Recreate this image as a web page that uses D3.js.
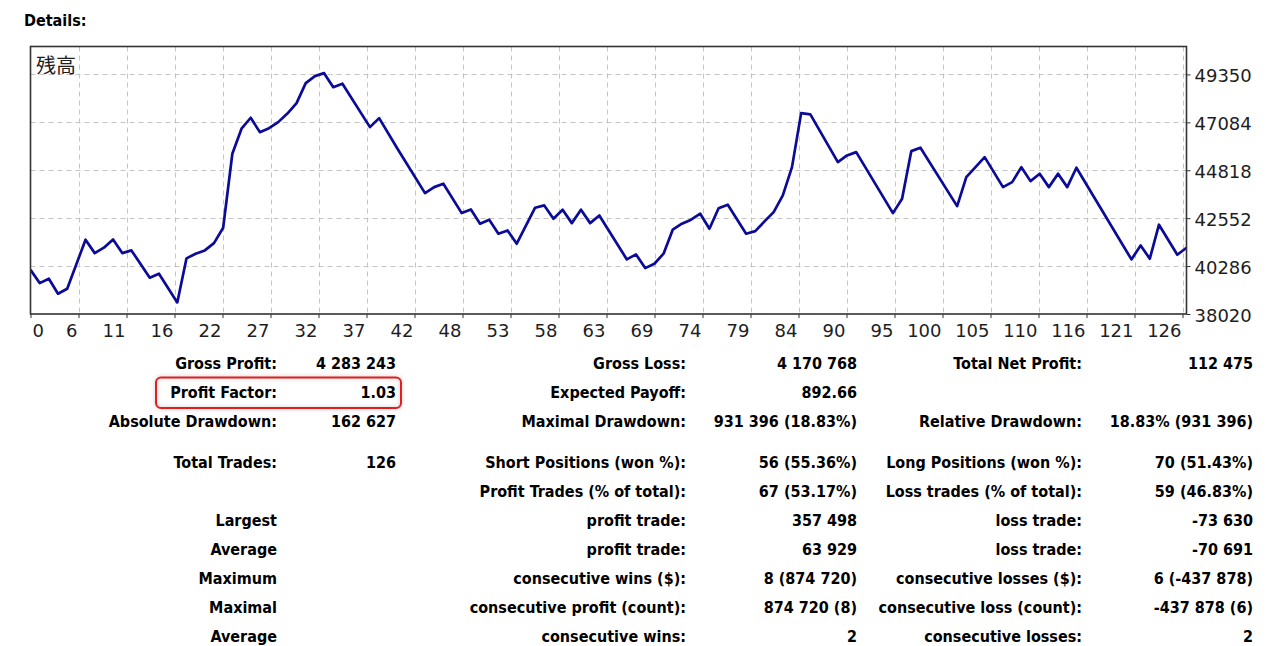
<!DOCTYPE html>
<html>
<head>
<meta charset="utf-8">
<script src="https://cdn.jsdelivr.net/npm/d3@7/dist/d3.min.js"></script>
<style>
body { margin: 0; background: #fff; }
.bold { font-family: "DejaVu Sans Condensed", "DejaVu Sans", sans-serif; font-stretch: condensed; font-weight: bold; font-size: 16px; fill: #000; }
.axis text { font-family: "DejaVu Sans", sans-serif; font-size: 18px; fill: #1e1e1e; }
.axis line { stroke: #333; }
</style>
</head>
<body>
<svg id="chart" width="1285" height="646"></svg>
<script>
// balance curve vertices (trade number, balance)
var tradeIndex = [0, 1, 2, 3, 4, 6, 7, 8, 9, 10, 11, 13, 14, 16, 17, 18, 19, 20, 21, 22,
    23, 24, 25, 26, 27, 28, 29, 30, 31, 32, 33, 34, 37, 38, 40, 43, 44, 45, 47, 48,
    49, 50, 51, 52, 53, 55, 56, 57, 58, 59, 60, 61, 62, 65, 66, 67, 68, 69, 70, 71,
    72, 73, 74, 75, 76, 78, 79, 80, 81, 82, 83, 84, 85, 88, 89, 90, 94, 95, 96, 97,
    101, 102, 103, 104, 106, 107, 108, 109, 110, 111, 112, 113, 114, 120, 121, 122, 123, 125, 126];
var balance = [40114, 39481, 39689, 38980, 39216, 41533, 40899, 41155, 41547, 40899, 41027, 39736, 39925, 38568, 40649, 40871, 41027, 41372, 42100, 45599,
    46781, 47301, 46620, 46809, 47093, 47500, 47991, 48937, 49268, 49410, 48748, 48909, 46857, 47282, 45835, 43736, 44020, 44181, 42791, 42966,
    42289, 42479, 41817, 41973, 41344, 43046, 43155, 42526, 42951, 42318, 42951, 42318, 42682, 40601, 40838, 40190, 40398, 40871, 42006, 42289,
    42479, 42762, 42053, 43020, 43188, 41817, 41940, 42398, 42838, 43627, 44965, 47519, 47457, 45202, 45519, 45675, 42791, 43471, 45722, 45883,
    43121, 44493, 44965, 45438, 44020, 44256, 44965, 44304, 44653, 44020, 44653, 44020, 44937, 40601, 41263, 40635, 42242, 40824, 41155];

var xTickLabels = ["0", "6", "11", "16", "22", "27", "32", "37", "42", "48", "53", "58", "63",
    "69", "74", "79", "84", "90", "95", "100", "105", "110", "116", "121", "126"];
var yTickValues = [38020, 40286, 42552, 44818, 47084, 49350];
var chartTitle = "残高";

var tableRows = [
    ["Gross Profit:", "4 283 243", "Gross Loss:", "4 170 768", "Total Net Profit:", "112 475"],
    ["Profit Factor:", "1.03", "Expected Payoff:", "892.66", "", ""],
    ["Absolute Drawdown:", "162 627", "Maximal Drawdown:", "931 396 (18.83%)", "Relative Drawdown:", "18.83% (931 396)"],
    ["Total Trades:", "126", "Short Positions (won %):", "56 (55.36%)", "Long Positions (won %):", "70 (51.43%)"],
    ["", "", "Profit Trades (% of total):", "67 (53.17%)", "Loss trades (% of total):", "59 (46.83%)"],
    ["Largest", "", "profit trade:", "357 498", "loss trade:", "-73 630"],
    ["Average", "", "profit trade:", "63 929", "loss trade:", "-70 691"],
    ["Maximum", "", "consecutive wins ($):", "8 (874 720)", "consecutive losses ($):", "6 (-437 878)"],
    ["Maximal", "", "consecutive profit (count):", "874 720 (8)", "consecutive loss (count):", "-437 878 (6)"],
    ["Average", "", "consecutive wins:", "2", "consecutive losses:", "2"]
];

function draw() {
    var svg = d3.select("#chart");
    var plot = {left: 30.5, right: 1186.5, top: 46.5, bottom: 314};
    var gridStep = 48;

    svg.append("text")
        .attr("class", "bold")
        .attr("x", 24)
        .attr("y", 26)
        .text("Details:");

    var xScale = d3.scaleLinear()
        .domain([0, 126])
        .range([plot.left, plot.right]);

    var xTickScale = d3.scalePoint()
        .domain(xTickLabels)
        .range([plot.left, plot.left + gridStep * (xTickLabels.length - 1)]);

    var yScale = d3.scaleLinear()
        .domain([38020, 50670])
        .range([plot.bottom, plot.top]);

    // grid
    var grid = svg.append("g")
        .attr("stroke", "#c4c4c4")
        .attr("stroke-width", 1)
        .attr("stroke-dasharray", "5,4");

    grid.selectAll("line.v")
        .data(xTickLabels.slice(1))
        .enter()
        .append("line")
        .attr("class", "v")
        .attr("x1", function(d){ return Math.round(xTickScale(d)) + 0.5; })
        .attr("x2", function(d){ return Math.round(xTickScale(d)) + 0.5; })
        .attr("y1", plot.top)
        .attr("y2", plot.bottom);

    grid.selectAll("line.h")
        .data(yTickValues.slice(1))
        .enter()
        .append("line")
        .attr("class", "h")
        .attr("x1", plot.left)
        .attr("x2", plot.right)
        .attr("y1", function(d){ return Math.round(yScale(d)) + 0.5; })
        .attr("y2", function(d){ return Math.round(yScale(d)) + 0.5; });

    svg.append("defs").append("clipPath")
        .attr("id", "plotClip")
        .append("rect")
        .attr("x", plot.left)
        .attr("y", plot.top)
        .attr("width", plot.right - plot.left)
        .attr("height", plot.bottom - plot.top);

    var points = tradeIndex.map(function(t, i){ return [t, balance[i]]; });

    var line = d3.line()
        .x(function(d){ return xScale(d[0]); })
        .y(function(d){ return yScale(d[1]); });

    svg.append("path")
        .datum(points)
        .attr("clip-path", "url(#plotClip)")
        .attr("fill", "none")
        .attr("stroke", "#0b0b98")
        .attr("stroke-width", 2.7)
        .attr("stroke-linejoin", "round")
        .attr("d", line);

    // frame
    svg.append("rect")
        .attr("x", plot.left)
        .attr("y", plot.top)
        .attr("width", plot.right - plot.left)
        .attr("height", plot.bottom - plot.top)
        .attr("fill", "none")
        .attr("stroke", "#333")
        .attr("stroke-width", 1.6);

    svg.append("text")
        .attr("x", 36)
        .attr("y", 73)
        .style("font-family", "'Noto Sans CJK JP', 'Noto Sans CJK SC', sans-serif")
        .style("font-size", "20px")
        .style("fill", "#1e1e1e")
        .text(chartTitle);

    // x labels sit just left of their tick, the first one just right of it
    var xAxis = svg.append("g")
        .attr("class", "axis")
        .attr("transform", `translate(0,${plot.bottom})`)
        .call(d3.axisBottom(xTickScale).tickSize(4).tickPadding(6));
    xAxis.select(".domain").remove();
    xAxis.selectAll(".tick text")
        .attr("text-anchor", function(d, i){ return i === 0 ? "start" : "end"; })
        .attr("x", function(d, i){ return i === 0 ? 1.5 : -1.5; });

    var yAxis = svg.append("g")
        .attr("class", "axis")
        .attr("transform", `translate(${plot.right},0)`)
        .call(d3.axisRight(yScale).tickValues(yTickValues).tickSize(4).tickPadding(4).tickFormat(d3.format("d")));
    yAxis.select(".domain").remove();
    yAxis.selectAll(".tick text").attr("dy", "0.42em");

    // statistics table
    var colRight = [277, 396, 686, 857, 1082, 1253];
    var rowBase = [369, 398, 427, 468, 497, 526, 555, 584, 613, 642];

    var rows = svg.selectAll("g.row")
        .data(tableRows)
        .enter()
        .append("g")
        .attr("class", "row")
        .attr("transform", function(d, i){ return `translate(0,${rowBase[i]})`; });

    rows.selectAll("text")
        .data(function(d){ return d; })
        .enter()
        .append("text")
        .attr("class", "bold")
        .attr("x", function(d, j){ return colRight[j]; })
        .attr("text-anchor", "end")
        .text(function(d){ return d; });

    // highlight box around the profit factor
    svg.append("rect")
        .attr("x", 156)
        .attr("y", 377.5)
        .attr("width", 245)
        .attr("height", 30.5)
        .attr("rx", 5)
        .attr("fill", "none")
        .attr("stroke", "#e41e1e")
        .attr("stroke-width", 2)
        .style("filter", "drop-shadow(0px 0px 2px rgba(0,0,0,0.25))");
}

draw();
</script>
</body>
</html>
